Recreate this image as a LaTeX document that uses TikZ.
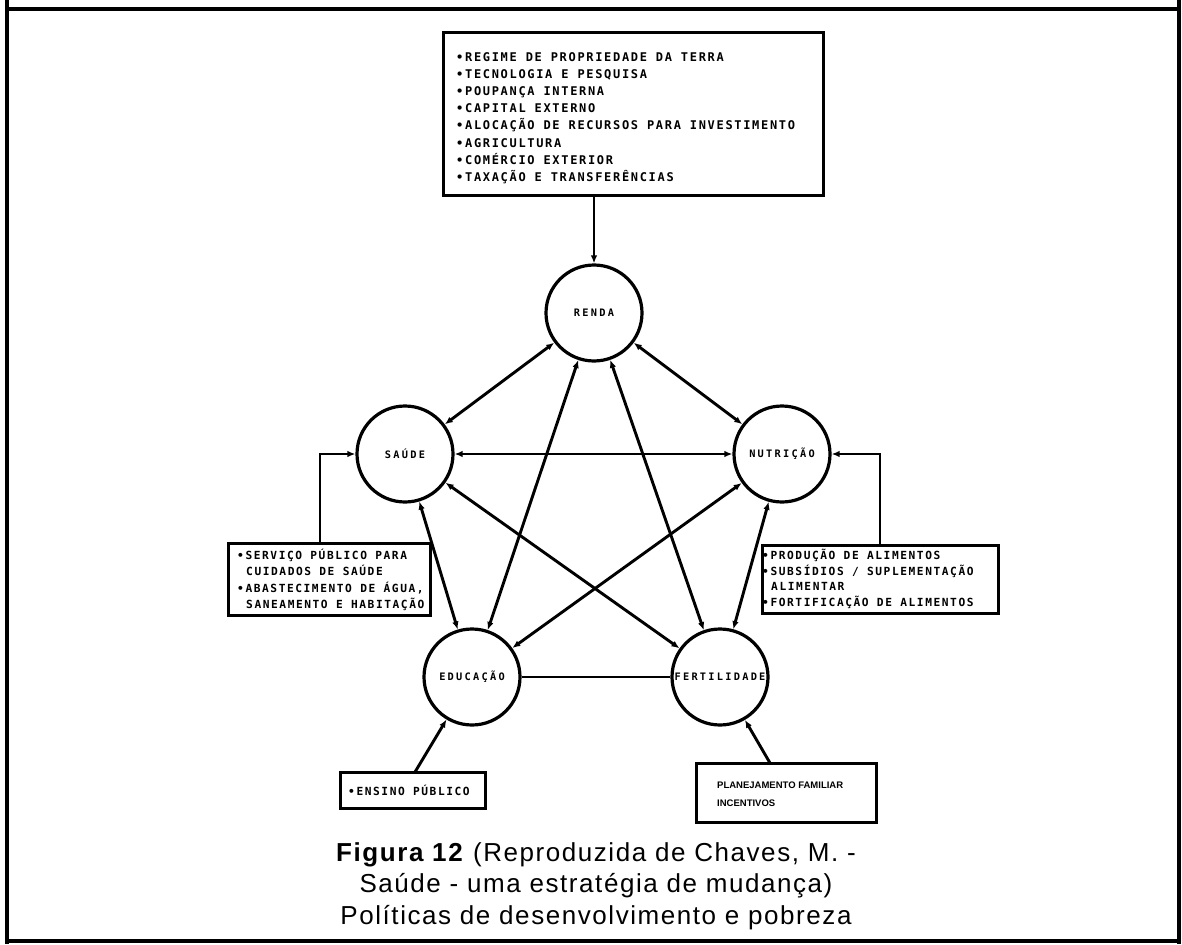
\documentclass[tikz,border=0pt]{standalone}
\usepackage{fontspec}
\setmainfont{Liberation Sans}
\newfontfamily\lblA[LetterSpace=14]{DejaVu Sans Mono}
\newfontfamily\lblB[LetterSpace=22]{DejaVu Sans Mono}
\newfontfamily\capf[LetterSpace=6]{Liberation Sans}
\usetikzlibrary{arrows.meta}
\tikzset{
  circ/.style={circle, draw, line width=3.2pt, minimum size=96pt, inner sep=0pt,
    font=\lblB\bfseries\fontsize{10.3}{12}\selectfont},
  boxx/.style={draw, line width=3pt, inner sep=0pt, rectangle},
  topln/.style={anchor=west, inner sep=0pt, text height=8.75pt, text depth=0pt,
    font=\lblA\bfseries\fontsize{12}{14}\selectfont},
  sideln/.style={anchor=west, inner sep=0pt, text height=8.2pt, text depth=0pt,
    font=\lblA\bfseries\fontsize{11.2}{13}\selectfont},
  planln/.style={anchor=west, inner sep=0pt, text height=6.8pt, text depth=0pt,
    font=\bfseries\fontsize{9.5}{11}\selectfont},
  capln/.style={anchor=center, inner sep=0pt, text height=18.5pt, text depth=0pt,
    font=\capf\fontsize{26}{30}\selectfont},
  conn/.style={line width=2.9pt},
  arr/.style={conn, -{Latex[length=8pt,width=6.5pt]}},
  darr/.style={conn, {Latex[length=8pt,width=6.5pt]}-{Latex[length=8pt,width=6.5pt]}},
  frame/.style={line width=4.5pt}
}
\begin{document}
\begin{tikzpicture}[x=1pt,y=-1pt]
\useasboundingbox (0,0) rectangle (1182,944);
\fill[white] (0,0) rectangle (1182,944);
% outer frame
\draw[frame] (7,0) -- (7,944);
\draw[frame] (1179,0) -- (1179,944);
\draw[frame] (7,9) -- (1179,9);
\draw[frame] (7,941) -- (1179,941);

% top box
\node[boxx, minimum width=380pt, minimum height=162pt] (topbox) at (633,114) {};
\foreach \t [count=\i] in {{•REGIME DE PROPRIEDADE DA TERRA},{•TECNOLOGIA E PESQUISA},{•POUPANÇA INTERNA},{•CAPITAL EXTERNO},{•ALOCAÇÃO DE RECURSOS PARA INVESTIMENTO},{•AGRICULTURA},{•COMÉRCIO EXTERIOR},{•TAXAÇÃO E TRANSFERÊNCIAS}}
  \node[topln] (top\i) at (456,{57+17.15*(\i-1)}) {\t};

% circles
\node[circ] (renda) at (594,313) {RENDA};
\node[circ] (saude) at (405,454) {SAÚDE};
\node[circ] (nutricao) at (782,454) {NUTRIÇÃO};
\node[circ] (educacao) at (472,677) {EDUCAÇÃO};
\node[circ] (fertilidade) at (720,677) {FERTILIDADE};

% health box
\node[boxx, minimum width=202pt, minimum height=72pt] (hbox) at (329,579) {};
\node[sideln] (h1) at (237,555) {•SERVIÇO PÚBLICO PARA};
\node[sideln] (h2) at (246,571) {CUIDADOS DE SAÚDE};
\node[sideln] (h3) at (237,588) {•ABASTECIMENTO DE ÁGUA,};
\node[sideln] (h4) at (246,604) {SANEAMENTO E HABITAÇÃO};

% food box
\node[boxx, minimum width=236pt, minimum height=68pt] (fbox) at (880,579) {};
\node[sideln] (f1) at (762,555) {•PRODUÇÃO DE ALIMENTOS};
\node[sideln] (f2) at (762,571) {•SUBSÍDIOS / SUPLEMENTAÇÃO};
\node[sideln] (f3) at (771,586) {ALIMENTAR};
\node[sideln] (f4) at (762,602) {•FORTIFICAÇÃO DE ALIMENTOS};

% ensino box
\node[boxx, minimum width=145pt, minimum height=36pt] (ebox) at (412.5,790) {};
\node[sideln] (e1) at (348,791) {•ENSINO PÚBLICO};

% planning box
\node[boxx, minimum width=180pt, minimum height=59pt] (pbox) at (786,792.5) {};
\node[planln] (p1) at (717,785) {PLANEJAMENTO FAMILIAR};
\node[planln] (p2) at (717,803) {INCENTIVOS};

% connectors
\draw[arr] (renda |- topbox.south) -- (renda.north);
\draw[darr] (renda) -- (saude);
\draw[darr] (renda) -- (nutricao);
\draw[darr] (renda) -- (educacao);
\draw[darr] (renda) -- (fertilidade);
\draw[darr] (saude) -- (nutricao);
\draw[darr] (saude) -- (educacao);
\draw[darr] (saude) -- (fertilidade);
\draw[darr] (nutricao) -- (educacao);
\draw[darr] (nutricao) -- (fertilidade);
\draw[conn] (educacao) -- (fertilidade);

\coordinate (hk) at (320,454);
\draw[arr] (hk |- hbox.north) -- (hk) -- (saude.west);
\coordinate (fk) at (880,454);
\draw[arr] (fk |- fbox.north) -- (fk) -- (nutricao.east);
\coordinate (ek) at (415,772);
\draw[arr] (ek) -- (educacao);
\coordinate (pk) at (770,763);
\draw[arr] (pk) -- (fertilidade);

% caption
\node[capln] (c1) at (596,852) {\textbf{Figura 12} (Reproduzida de Chaves, M. -};
\node[capln] (c2) at (596,883) {Saúde - uma estratégia de mudança)};
\node[capln] (c3) at (596,915) {Políticas de desenvolvimento e pobreza};
\end{tikzpicture}
\end{document}
